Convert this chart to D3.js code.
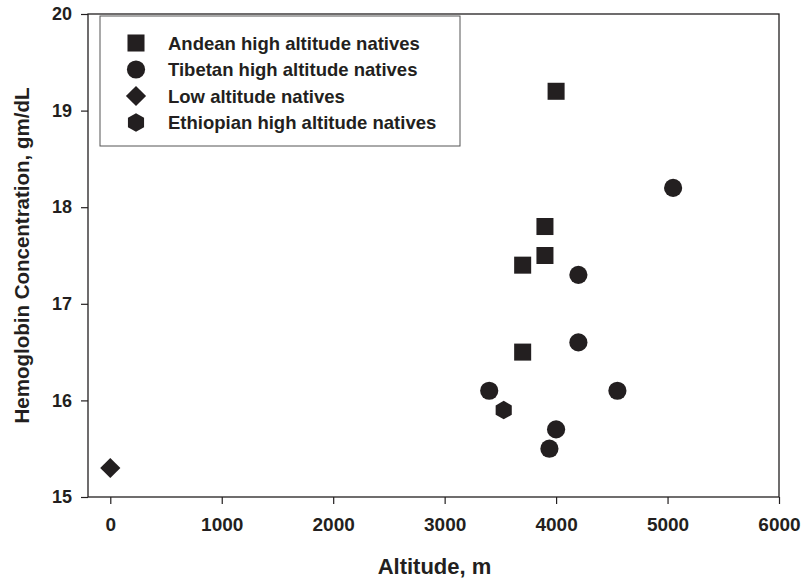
<!DOCTYPE html>
<html>
<head>
<meta charset="utf-8">
<script src="https://cdn.jsdelivr.net/npm/d3@7"></script>
<style>
  body { margin: 0; background: #fff; }
  text { font-family: "Liberation Sans", Arial, Helvetica, sans-serif; font-weight: bold; fill: #231f20; }
</style>
</head>
<body>
<svg id="chart"></svg>
<script>
const width = 802;
const height = 583;

// data
const andeanAlt = [4000, 3900, 3900, 3700, 3700];
const andeanHb = [19.2, 17.8, 17.5, 17.4, 16.5];
const tibetanAlt = [5050, 4200, 4200, 3400, 4550, 4000, 3940];
const tibetanHb = [18.2, 17.3, 16.6, 16.1, 16.1, 15.7, 15.5];
const lowAlt = [0];
const lowHb = [15.3];
const ethiopianAlt = [3530];
const ethiopianHb = [15.9];

const seriesNames = ["Andean high altitude natives", "Tibetan high altitude natives", "Low altitude natives", "Ethiopian high altitude natives"];
const xTicks = [0, 1000, 2000, 3000, 4000, 5000, 6000];
const yTicks = [15, 16, 17, 18, 19, 20];

const margin = { top: 14, right: 23, bottom: 86, left: 88 };
const ink = "#231f20";

const svg = d3.select("#chart").attr("width", width).attr("height", height);

const x = d3.scaleLinear().domain([-200, 6000]).range([margin.left, width - margin.right]);
const y = d3.scaleLinear().domain([15, 20]).range([height - margin.bottom, margin.top]);

// frame
svg.append("rect")
    .attr("x", margin.left).attr("y", margin.top)
    .attr("width", width - margin.right - margin.left)
    .attr("height", height - margin.bottom - margin.top)
    .attr("fill", "none").attr("stroke", ink).attr("stroke-width", 1.3);

const xAxis = svg.append("g")
    .attr("transform", `translate(0,${height - margin.bottom})`)
    .call(d3.axisBottom(x).tickValues(xTicks).tickSize(7).tickPadding(14).tickFormat(d3.format("d")));
xAxis.select(".domain").remove();
xAxis.selectAll("line").attr("stroke", ink).attr("stroke-width", 1.2);
xAxis.selectAll("text").attr("font-size", "19px").attr("fill", ink).attr("font-family", null);

const yAxis = svg.append("g")
    .attr("transform", `translate(${margin.left},0)`)
    .call(d3.axisLeft(y).tickValues(yTicks).tickSize(7).tickPadding(9).tickFormat(d3.format("d")));
yAxis.select(".domain").remove();
yAxis.selectAll("line").attr("stroke", ink).attr("stroke-width", 1.2);
yAxis.selectAll("text").attr("font-size", "18px").attr("fill", ink).attr("font-family", null);

// axis titles
svg.append("text")
    .attr("x", (x(-200) + x(6000)) / 2 + 1).attr("y", 574)
    .attr("text-anchor", "middle").attr("font-size", "22px")
    .text("Altitude, m");

svg.append("text")
    .attr("transform", `translate(29,${(y(15) + y(20)) / 2}) rotate(-90)`)
    .attr("text-anchor", "middle").attr("font-size", "20.5px")
    .text("Hemoglobin Concentration, gm/dL");

// marker shapes
const hexagon = {
    draw(ctx, size) {
        const r = Math.sqrt(size / (1.5 * Math.sqrt(3)));
        for (let i = 0; i < 6; i++) {
            const a = Math.PI / 2 + i * Math.PI / 3;
            const px = r * Math.cos(a), py = r * Math.sin(a);
            if (i === 0) ctx.moveTo(px, py); else ctx.lineTo(px, py);
        }
        ctx.closePath();
    }
};
const shapes = [d3.symbolSquare, d3.symbolCircle, d3.symbolDiamond2, hexagon];
const sizes = [290, 260, 260, 225];

function series(xs, ys) { return xs.map((v, i) => [v, ys[i]]); }
const allSeries = [
    series(andeanAlt, andeanHb),
    series(tibetanAlt, tibetanHb),
    series(lowAlt, lowHb),
    series(ethiopianAlt, ethiopianHb)
];

allSeries.forEach((pts, k) => {
    svg.append("g").selectAll("path")
        .data(pts)
        .enter()
        .append("path")
        .attr("transform", d => `translate(${x(d[0])},${y(d[1])})`)
        .attr("d", d3.symbol().type(shapes[k]).size(sizes[k]))
        .attr("fill", ink);
});

// legend
const legend = svg.append("g");
legend.append("rect")
    .attr("x", 100).attr("y", 16).attr("width", 360).attr("height", 130)
    .attr("fill", "#fff").attr("stroke", "#555").attr("stroke-width", 1);

seriesNames.forEach((name, k) => {
    const ly = 43 + k * 26.5;
    legend.append("path")
        .attr("transform", `translate(136,${ly})`)
        .attr("d", d3.symbol().type(shapes[k]).size(sizes[k]))
        .attr("fill", ink);
    legend.append("text")
        .attr("x", 168).attr("y", ly).attr("dy", "0.36em")
        .attr("font-size", "18.5px")
        .text(name);
});
</script>
</body>
</html>
